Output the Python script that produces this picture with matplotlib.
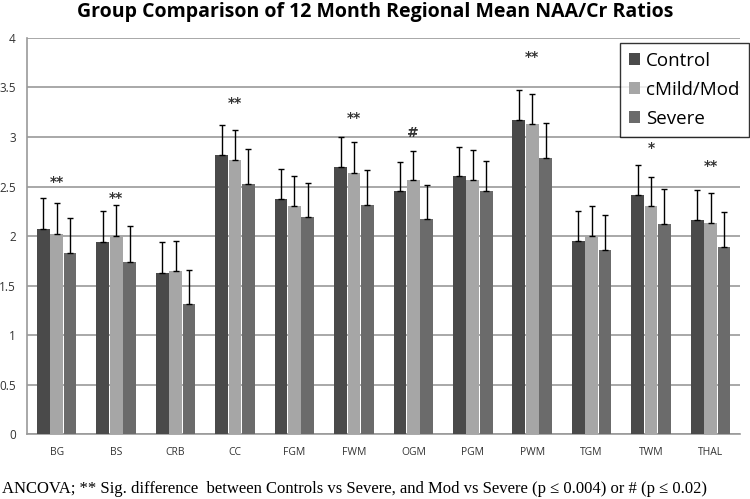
import matplotlib
matplotlib.use('Agg')
import matplotlib.pyplot as plt
import numpy as np

REGIONS = ['BG', 'BS', 'CRB', 'CC', 'FGM', 'FWM', 'OGM', 'PGM', 'PWM', 'TGM', 'TWM', 'THAL']
GROUPS = ['Control', 'cMild/Mod', 'Severe']

control = [2.07, 1.94, 1.63, 2.82, 2.37, 2.70, 2.45, 2.61, 3.17, 1.95, 2.41, 2.16]
mild    = [2.02, 2.00, 1.65, 2.77, 2.30, 2.64, 2.57, 2.57, 3.13, 2.00, 2.30, 2.13]
severe  = [1.83, 1.74, 1.31, 2.53, 2.19, 2.31, 2.17, 2.45, 2.79, 1.86, 2.12, 1.89]

control_sd = [0.31, 0.31, 0.31, 0.30, 0.31, 0.30, 0.30, 0.29, 0.30, 0.30, 0.31, 0.30]
mild_sd    = [0.31, 0.31, 0.30, 0.30, 0.31, 0.31, 0.29, 0.30, 0.30, 0.30, 0.30, 0.30]
severe_sd  = [0.35, 0.36, 0.35, 0.35, 0.35, 0.36, 0.35, 0.31, 0.35, 0.35, 0.35, 0.35]

sig_labels = ['**', '**', '', '**', '', '**', '#', '', '**', '', '*', '**']
sig_y      = [2.55, 2.38, None, 3.34, None, 3.19, 3.04, None, 3.81, None, 2.89, 2.71]

COLORS = ['#4a4a4a', '#a6a6a6', '#6b6b6b']

fig = plt.figure(figsize=(7.5, 4.99), dpi=100)
ax = fig.add_axes([0.036, 0.130, 0.951, 0.794])

x = np.arange(len(REGIONS))
width = 0.215
series = [(control, control_sd), (mild, mild_sd), (severe, severe_sd)]
for i, ((vals, sd), color, name) in enumerate(zip(series, COLORS, GROUPS)):
    pos = x + (i - 1) * 0.225
    ax.bar(pos, vals, width, color=color, label=name, zorder=3)
    ax.errorbar(pos, vals, yerr=[np.zeros(len(sd)), sd], fmt='none',
                ecolor='black', elinewidth=1, capsize=2.5, capthick=1, zorder=4)

for xi, lab, yv in zip(x, sig_labels, sig_y):
    if lab:
        ax.text(xi, yv, lab, ha='center', va='center', fontsize=10,
                fontweight='bold', color='#333333')

ax.set_xlim(-0.5, len(REGIONS) - 0.5)
ax.set_ylim(0, 4)
ax.set_yticks(np.arange(0, 4.01, 0.5))
ax.set_yticklabels(['0', '0.5', '1', '1.5', '2', '2.5', '3', '3.5', '4'])
ax.set_xticks(x)
ax.set_xticklabels(REGIONS, fontsize=7.5, color='#333333', family='Open Sans')
ax.tick_params(axis='y', labelsize=8.5, length=0, pad=8, labelcolor='#333333')
ax.tick_params(axis='x', length=0, pad=9)
for lab in ax.get_yticklabels():
    lab.set_family('Open Sans')
ax.grid(axis='y', color='#9a9a9a', linewidth=1.2, zorder=0)
for s in ['top', 'right']:
    ax.spines[s].set_visible(False)
for s in ['left', 'bottom']:
    ax.spines[s].set_color('#9a9a9a')
    ax.spines[s].set_linewidth(1.2)

leg = ax.legend(loc='upper right', bbox_to_anchor=(1.012, 0.988),
                frameon=True, fancybox=False, edgecolor='black',
                handlelength=0.6, handleheight=0.6, handletextpad=0.3,
                borderpad=0.5, labelspacing=0.58, borderaxespad=0,
                prop={'family': 'Open Sans', 'size': 13.5})
leg.get_frame().set_linewidth(1.0)

fig.text(0.5, 0.975, 'Group Comparison of 12 Month Regional Mean NAA/Cr Ratios',
         ha='center', va='center', fontsize=14, fontweight='bold', family='Open Sans')
fig.text(0.003, 0.02,
         'ANCOVA; ** Sig. difference  between Controls vs Severe, and Mod vs Severe (p \u2264 0.004) or # (p \u2264 0.02)',
         ha='left', va='center', fontsize=12, family='Liberation Serif')

plt.savefig('out.png', dpi=100)
